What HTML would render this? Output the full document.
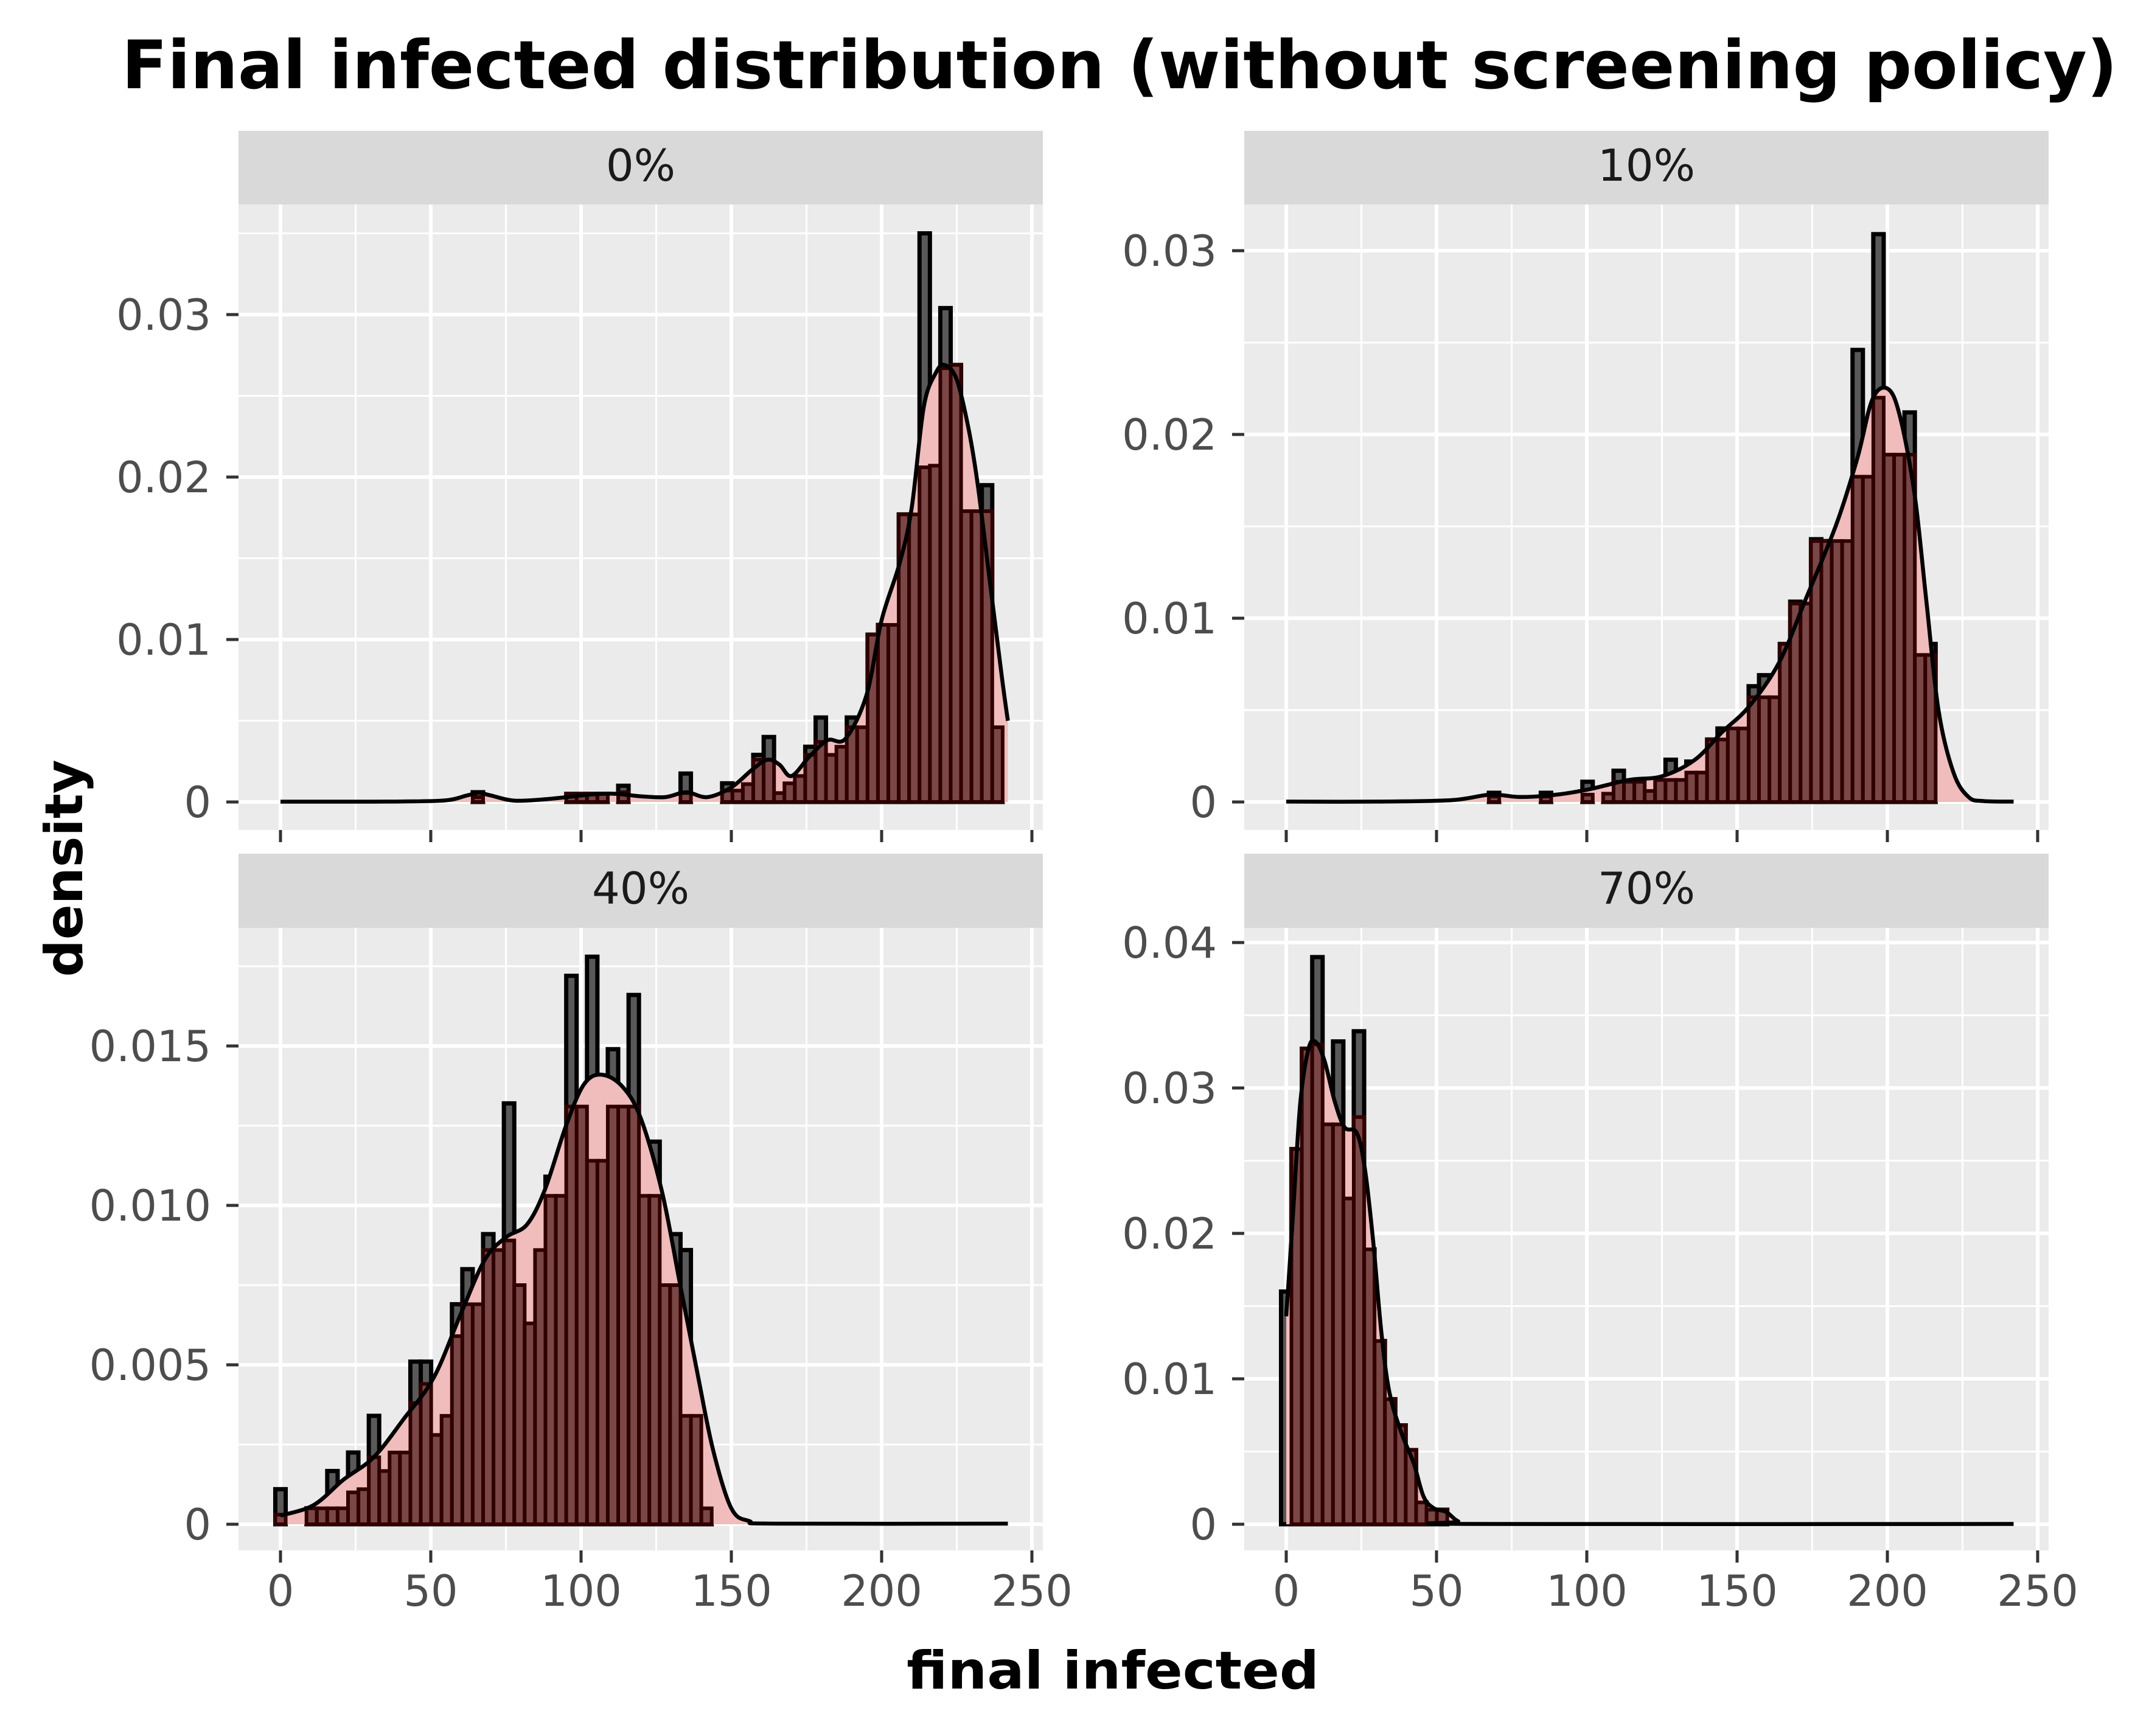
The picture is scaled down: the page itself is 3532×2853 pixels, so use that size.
<!DOCTYPE html>
<html><head><meta charset="utf-8"><title>Final infected distribution</title>
<style>html,body{margin:0;padding:0;background:#fff}svg{display:block}</style></head>
<body>
<svg id="chart" xmlns="http://www.w3.org/2000/svg" width="3532" height="2853" viewBox="0 0 3532 2853" font-family="'DejaVu Sans','Liberation Sans',sans-serif">
<rect width="3532" height="2853" fill="#ffffff"/>
<text x="1840" y="145" font-size="110" font-weight="bold" text-anchor="middle" textLength="3280" lengthAdjust="spacingAndGlyphs">Final infected distribution (without screening policy)</text>
<text x="1829" y="2775" font-size="86" font-weight="bold" text-anchor="middle" textLength="678" lengthAdjust="spacingAndGlyphs">final infected</text>
<text transform="translate(135,1427) rotate(-90)" font-size="86" font-weight="bold" text-anchor="middle" textLength="357" lengthAdjust="spacingAndGlyphs">density</text>
</svg>
<script>
// ---- data (densities in units of 0.001) ----
const panelLabels = ["0%", "10%", "40%", "70%"];
const binWidth = 3.457;
const gray0 = [0,0,0,0,0,0,0,0,0,0,0,0,0,0,0,0,0,0,0,0.6,0,0,0,0,0,0,0,0,0.5,0.5,0.5,0.5,0,1.0,0,0,0,0,0,1.75,0,0,0,1.15,0.7,1.1,2.9,4.0,0.55,1.15,1.6,3.4,5.2,2.9,3.4,5.2,4.6,10.3,10.9,10.9,17.7,17.7,35.0,20.7,30.4,26.9,21.2,17.9,19.5,4.6];
const red0  = [0,0,0,0,0,0,0,0,0,0,0,0,0,0,0,0,0,0,0,0.3,0,0,0,0,0,0,0,0,0.5,0.5,0.5,0.5,0,0.6,0,0,0,0,0,0.55,0,0,0,0.7,0.7,1.1,2.6,2.6,0.55,1.15,1.6,2.9,3.7,2.9,3.4,4.6,4.6,10.3,10.9,10.9,17.7,17.7,20.6,20.7,26.7,26.9,17.9,17.9,17.9,4.6];
const gray10 = [0,0,0,0,0,0,0,0,0,0,0,0,0,0,0,0,0,0,0,0,0.5,0,0,0,0,0.5,0,0,0,1.1,0,0.45,1.7,1.1,1.1,0.6,1.2,2.3,1.2,2.2,1.6,3.4,4.0,4.0,4.0,6.3,6.9,5.7,8.6,10.9,10.8,14.3,14.2,14.2,14.2,24.6,17.7,30.9,18.9,18.9,21.2,8.0,8.6];
const red10  = [0,0,0,0,0,0,0,0,0,0,0,0,0,0,0,0,0,0,0,0,0.3,0,0,0,0,0.3,0,0,0,0.4,0,0.45,1.1,1.1,1.1,0.6,1.2,1.2,1.2,1.6,1.6,3.4,3.4,4.0,4.0,5.7,5.7,5.7,8.6,10.8,10.8,14.2,14.2,14.2,14.2,17.7,17.7,22.0,18.9,18.9,18.9,8.0,8.0];
const gray40 = [1.1,0,0,0.5,0.5,1.67,0.5,2.25,1.1,3.4,1.67,2.25,2.25,5.1,5.1,2.8,3.4,6.9,8.0,6.9,9.1,8.6,13.2,7.5,6.3,8.6,10.9,10.3,17.2,13.1,17.8,11.4,14.9,13.1,16.6,10.3,12.0,7.5,9.1,8.6,3.4,0.5];
const red40  = [0.3,0,0,0.5,0.5,0.5,0.5,1.0,1.1,2.1,1.67,2.25,2.25,3.8,4.4,2.8,3.4,5.9,6.9,6.9,8.6,8.6,8.9,7.5,6.3,8.6,10.3,10.3,13.1,13.1,11.4,11.4,13.1,13.1,13.1,10.3,10.3,7.5,7.5,3.4,3.4,0.5];
const gray70 = [16.0,25.8,32.7,39.0,27.5,33.2,22.4,33.9,18.9,12.6,8.6,6.8,5.1,1.5,1.0,1.0];
const red70  = [0,25.8,32.7,33.0,27.5,27.5,22.4,28.0,18.9,12.6,8.6,6.8,5.1,1.5,1.0,1.0];
const dens0x = [0,20,40,55,62,66,70,78,90,100,106,112,120,128,135,142,150,157,162,166,170,176,182,188,195,200,206,210,214,218,221,225,229,232,236,240,242];
const dens0y = [0.02,0.02,0.03,0.1,0.4,0.55,0.4,0.08,0.2,0.4,0.5,0.5,0.35,0.3,0.6,0.3,0.9,2.0,2.6,2.3,1.6,2.8,3.8,3.9,6.6,11.2,14.7,18.1,24.3,26.4,26.9,26.0,22.9,19.5,13.6,7.7,5.0];
const dens10x = [0,30,55,68,78,90,101,114,125,136,145,154,164,173,183,190,195,200,204,209,213,217,222,227,232,242];
const dens10y = [0.02,0.02,0.1,0.4,0.27,0.4,0.7,1.2,1.4,2.3,3.8,5.2,7.6,11.1,15.1,18.7,21.9,22.5,21.1,16.8,10.9,5.0,1.6,0.27,0.05,0.02];
const dens40x = [0,11,21,31,41,51,60,68,75,82,88,95,101,107,114,120,127,133,139,144,150,156,165,242];
const dens40y = [0.27,0.6,1.4,2.1,3.3,4.6,6.6,8.3,9.0,9.4,10.5,12.5,13.8,14.1,13.7,12.7,10.4,7.5,4.6,2.3,0.5,0.1,0.02,0.02];
const dens70x = [0,2,4.6,7.3,9.6,12.7,16.1,19.4,23.5,26.2,28.9,31.6,34.3,38.3,42.4,45.7,49.1,53.2,57.2,62,242];
const dens70y = [14.3,20.5,28.8,32.6,33.2,31.9,29.1,27.3,26.9,24.4,19.5,13.3,9.1,6.3,4.2,1.9,1.1,0.85,0.2,0.02,0.02];
const xTicks = [0,50,100,150,200,250];
const xMinor = [25,75,125,175,225];
const yTicks0 = [0,0.01,0.02,0.03], yLabels0 = ["0","0.01","0.02","0.03"], yMinor0 = [0.005,0.015,0.025,0.035];
const yTicks10 = [0,0.01,0.02,0.03], yLabels10 = ["0","0.01","0.02","0.03"], yMinor10 = [0.005,0.015,0.025];
const yTicks40 = [0,0.005,0.01,0.015], yLabels40 = ["0","0.005","0.010","0.015"], yMinor40 = [0.0025,0.0075,0.0125,0.0175];
const yTicks70 = [0,0.01,0.02,0.03,0.04], yLabels70 = ["0","0.01","0.02","0.03","0.04"], yMinor70 = [0.005,0.015,0.025,0.035];

// ---- layout ----
const NS = "http://www.w3.org/2000/svg";
const svg = document.getElementById("chart");
const panels = [
  {label:panelLabels[0], left:392, top:336, bottom:1364, stripTop:215, y0:1318, k:26700, gray:gray0, red:red0, dx:dens0x, dy:dens0y, yt:yTicks0, yl:yLabels0, ym:yMinor0, xlab:false},
  {label:panelLabels[1], left:2045, top:336, bottom:1364, stripTop:215, y0:1318, k:30200, gray:gray10, red:red10, dx:dens10x, dy:dens10y, yt:yTicks10, yl:yLabels10, ym:yMinor10, xlab:false},
  {label:panelLabels[2], left:392, top:1525, bottom:2548, stripTop:1403, y0:2505, k:52400, gray:gray40, red:red40, dx:dens40x, dy:dens40y, yt:yTicks40, yl:yLabels40, ym:yMinor40, xlab:true},
  {label:panelLabels[3], left:2045, top:1525, bottom:2548, stripTop:1403, y0:2505, k:23900, gray:gray70, red:red70, dx:dens70x, dy:dens70y, yt:yTicks70, yl:yLabels70, ym:yMinor70, xlab:true}
];
const W = 1322, PX = 4.94, X0OFF = 69;
function mk(tag, attrs, parent){const e=document.createElementNS(NS,tag);for(const a in attrs)e.setAttribute(a,attrs[a]);(parent||svg).appendChild(e);return e;}
function smoothPath(pts){
  let d = "M"+pts[0][0]+","+pts[0][1];
  for(let i=0;i<pts.length-1;i++){
    const p0=pts[Math.max(0,i-1)],p1=pts[i],p2=pts[i+1],p3=pts[Math.min(pts.length-1,i+2)];
    const c1x=p1[0]+(p2[0]-p0[0])/6, c1y=p1[1]+(p2[1]-p0[1])/6;
    const c2x=p2[0]-(p3[0]-p1[0])/6, c2y=p2[1]-(p3[1]-p1[1])/6;
    d += " C"+c1x.toFixed(1)+","+c1y.toFixed(1)+" "+c2x.toFixed(1)+","+c2y.toFixed(1)+" "+p2[0].toFixed(1)+","+p2[1].toFixed(1);
  }
  return d;
}
panels.forEach((p, pi) => {
  const g = mk("g", {});
  
  
  const xs = v => p.left + X0OFF + v*PX;
  const ys = v => p.y0 - v*p.k;
  const strip = mk("rect", {x:p.left, y:p.stripTop, width:W, height:p.top-p.stripTop, fill:"#d9d9d9"}, g);
  
  
  const st = mk("text", {x:p.left+W/2, y:p.stripTop+82, "font-size":72, fill:"#1a1a1a", "text-anchor":"middle"}, g);
  st.textContent = p.label;
  
  
  const bg = mk("rect", {x:p.left, y:p.top, width:W, height:p.bottom-p.top, fill:"#ebebeb"}, g);
  
  
  const clipId = "clip"+pi;
  const cp = mk("clipPath", {id:clipId}, g);
  mk("rect", {x:p.left, y:p.top, width:W, height:p.bottom-p.top}, cp);
  const inner = mk("g", {"clip-path":"url(#"+clipId+")"}, g);
  p.ym.forEach(v => { const l = mk("line", {x1:p.left, x2:p.left+W, y1:ys(v), y2:ys(v), stroke:"#fff", "stroke-width":3}, inner);
      });
  xMinor.forEach(v => { const l = mk("line", {x1:xs(v), x2:xs(v), y1:p.top, y2:p.bottom, stroke:"#fff", "stroke-width":3}, inner);
      });
  p.yt.forEach(v => { const l = mk("line", {x1:p.left, x2:p.left+W, y1:ys(v), y2:ys(v), stroke:"#fff", "stroke-width":6}, inner);
      });
  xTicks.forEach(v => { const l = mk("line", {x1:xs(v), x2:xs(v), y1:p.top, y2:p.bottom, stroke:"#fff", "stroke-width":6}, inner);
      });
  p.gray.forEach((v, k) => { if (v <= 0) return;
    const x1 = xs((k-0.5)*binWidth), x2 = xs((k+0.5)*binWidth);
    const r = mk("rect", {x:x1, y:ys(v*0.001), width:x2-x1, height:ys(0)-ys(v*0.001), fill:"#595959", stroke:"#000", "stroke-width":7}, inner);
    
    
  });
  const pts = p.dx.map((x, i) => [xs(x), ys(p.dy[i]*0.001)]);
  const curve = smoothPath(pts);
  const fill = mk("path", {d: curve + " L"+pts[pts.length-1][0]+","+ys(0)+" L"+pts[0][0]+","+ys(0)+" Z", fill:"#f0bcbc"}, inner);
  
  
  p.red.forEach((v, k) => { if (v <= 0) return;
    const x1 = xs((k-0.5)*binWidth), x2 = xs((k+0.5)*binWidth);
    const r = mk("rect", {x:x1, y:ys(v*0.001), width:x2-x1, height:ys(0)-ys(v*0.001), fill:"#7a4646", stroke:"#300000", "stroke-width":6}, inner);
    
    
  });
  const ln = mk("path", {d: curve, fill:"none", stroke:"#000", "stroke-width":6.5}, inner);
  
  
  p.yt.forEach((v, i) => {
    const t = mk("line", {x1:p.left-20, x2:p.left, y1:ys(v), y2:ys(v), stroke:"#333", "stroke-width":5}, g);
     
    const tx = mk("text", {x:p.left-45, y:ys(v)+25, "font-size":70, fill:"#4d4d4d", "text-anchor":"end"}, g);
    tx.textContent = p.yl[i];
     
  });
  xTicks.forEach(v => {
    const t = mk("line", {x1:xs(v), x2:xs(v), y1:p.bottom, y2:p.bottom+20, stroke:"#333", "stroke-width":5}, g);
     
    if (p.xlab) {
      const tx = mk("text", {x:xs(v), y:2639, "font-size":70, fill:"#4d4d4d", "text-anchor":"middle"}, g);
      tx.textContent = String(v);
       
    }
  });
});
</script>
</body></html>
